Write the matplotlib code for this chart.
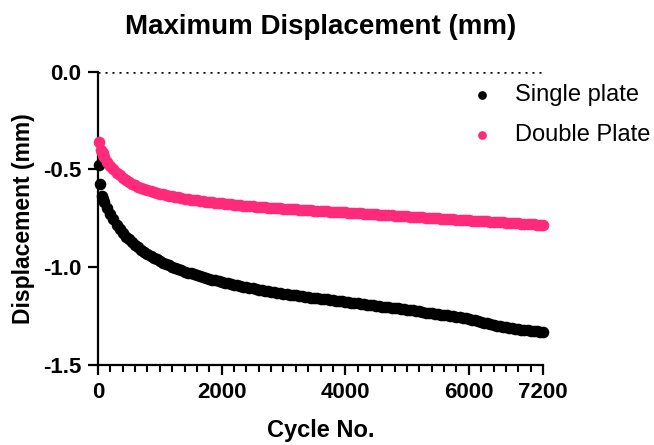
import matplotlib
matplotlib.use('Agg')
import matplotlib.pyplot as plt
from matplotlib.ticker import MultipleLocator, FormatStrFormatter

plt.rcParams['font.family'] = ['Liberation Sans', 'DejaVu Sans']
plt.rcParams['axes.unicode_minus'] = False

# cycle numbers and displacements
single_early_cycles = [20, 40, 70, 85]
single_early = [-0.477, -0.575, -0.636, -0.652]
double_early_cycles = [20, 45, 60, 75, 88]
double_early = [-0.358, -0.400, -0.410, -0.418, -0.426]

cycles = list(range(100, 7201, 50))
single_plate = [
    -0.665, -0.697, -0.728, -0.755, -0.785, -0.805, -0.825, -0.843, -0.858, -0.873,
    -0.886, -0.898, -0.910, -0.921, -0.932, -0.942, -0.951, -0.960, -0.968, -0.976,
    -0.984, -0.991, -0.998, -1.004, -1.010, -1.016, -1.022, -1.027, -1.032, -1.037,
    -1.042, -1.047, -1.051, -1.055, -1.059, -1.063, -1.067, -1.071, -1.075, -1.079,
    -1.082, -1.086, -1.089, -1.093, -1.096, -1.099, -1.102, -1.105, -1.108, -1.111,
    -1.114, -1.117, -1.120, -1.122, -1.125, -1.127, -1.130, -1.132, -1.135, -1.137,
    -1.140, -1.142, -1.144, -1.146, -1.149, -1.151, -1.153, -1.155, -1.157, -1.159,
    -1.161, -1.163, -1.165, -1.167, -1.169, -1.171, -1.173, -1.175, -1.177, -1.179,
    -1.181, -1.183, -1.185, -1.187, -1.189, -1.191, -1.193, -1.195, -1.197, -1.199,
    -1.201, -1.203, -1.205, -1.207, -1.209, -1.211, -1.213, -1.215, -1.217, -1.219,
    -1.221, -1.223, -1.226, -1.229, -1.232, -1.234, -1.236, -1.238, -1.240, -1.242,
    -1.244, -1.246, -1.248, -1.251, -1.253, -1.256, -1.259, -1.262, -1.265, -1.268,
    -1.271, -1.275, -1.279, -1.283, -1.287, -1.291, -1.295, -1.299, -1.302, -1.305,
    -1.308, -1.311, -1.313, -1.315, -1.317, -1.319, -1.321, -1.323, -1.325, -1.327,
    -1.328, -1.329, -1.330]
double_plate = [
    -0.435, -0.462, -0.482, -0.500, -0.516, -0.530, -0.543, -0.554, -0.564, -0.573,
    -0.581, -0.588, -0.595, -0.601, -0.606, -0.611, -0.616, -0.620, -0.624, -0.628,
    -0.631, -0.634, -0.637, -0.640, -0.643, -0.646, -0.649, -0.651, -0.654, -0.656,
    -0.658, -0.660, -0.662, -0.664, -0.666, -0.668, -0.670, -0.672, -0.674, -0.676,
    -0.677, -0.679, -0.680, -0.682, -0.683, -0.685, -0.686, -0.687, -0.689, -0.690,
    -0.691, -0.692, -0.694, -0.695, -0.696, -0.697, -0.698, -0.699, -0.700, -0.701,
    -0.702, -0.703, -0.704, -0.705, -0.706, -0.707, -0.708, -0.709, -0.710, -0.711,
    -0.712, -0.713, -0.714, -0.715, -0.716, -0.717, -0.718, -0.719, -0.720, -0.721,
    -0.722, -0.723, -0.724, -0.725, -0.726, -0.727, -0.728, -0.729, -0.730, -0.731,
    -0.732, -0.733, -0.734, -0.735, -0.736, -0.737, -0.738, -0.739, -0.740, -0.741,
    -0.742, -0.743, -0.744, -0.745, -0.746, -0.747, -0.748, -0.749, -0.750, -0.751,
    -0.752, -0.753, -0.754, -0.755, -0.756, -0.757, -0.758, -0.759, -0.760, -0.761,
    -0.762, -0.763, -0.764, -0.765, -0.766, -0.767, -0.768, -0.769, -0.770, -0.771,
    -0.772, -0.773, -0.774, -0.775, -0.776, -0.777, -0.778, -0.779, -0.780, -0.781,
    -0.782, -0.783, -0.784]

pink = '#FF2A7A'

fig = plt.figure(figsize=(6.54, 4.45), dpi=100)
ax = fig.add_axes([98 / 654, 1 - 365 / 445, 445 / 654, 293.3 / 445])

ax.axhline(0, color='black', lw=1.8, ls=(0, (0.8, 2.0)), zorder=1)
ax.scatter(single_early_cycles + cycles, single_early + single_plate, s=70,
           color='black', linewidths=0, clip_on=False, zorder=3, label='Single plate')
ax.scatter(double_early_cycles + cycles, double_early + double_plate, s=70,
           color=pink, linewidths=0, clip_on=False, zorder=3, label='Double Plate')

ax.set_xlim(0, 7200)
ax.set_ylim(-1.5, 0)
ax.set_xticks([0, 2000, 4000, 6000, 7200])
ax.xaxis.set_minor_locator(MultipleLocator(200))
ax.set_yticks([-1.5, -1.0, -0.5, 0.0])
ax.yaxis.set_major_formatter(FormatStrFormatter('%.1f'))

for s in ['top', 'right']:
    ax.spines[s].set_visible(False)
for s in ['left', 'bottom']:
    ax.spines[s].set_linewidth(1.6)

ax.tick_params(axis='both', which='major', length=7, width=1.6, direction='out',
               labelsize=16, pad=5)
ax.tick_params(axis='x', which='minor', length=5, width=1.5, direction='out')
for lab in ax.get_xticklabels() + ax.get_yticklabels():
    lab.set_fontweight('bold')

ax.set_xlabel('Cycle No.', fontsize=17, fontweight='bold', labelpad=12)
ax.set_ylabel('Displacement (mm)', fontsize=16.5, fontweight='bold', labelpad=6)
ax.set_title('Maximum Displacement (mm)', fontsize=20, fontweight='bold', pad=27)

leg = ax.legend(loc='upper left', bbox_to_anchor=(456 / 654, 1 - 72 / 445),
                bbox_transform=fig.transFigure, frameon=False, fontsize=17,
                markerscale=0.75, handletextpad=0.8, labelspacing=0.78,
                borderpad=0, handlelength=1.2)

fig.savefig('out.png', dpi=100)
